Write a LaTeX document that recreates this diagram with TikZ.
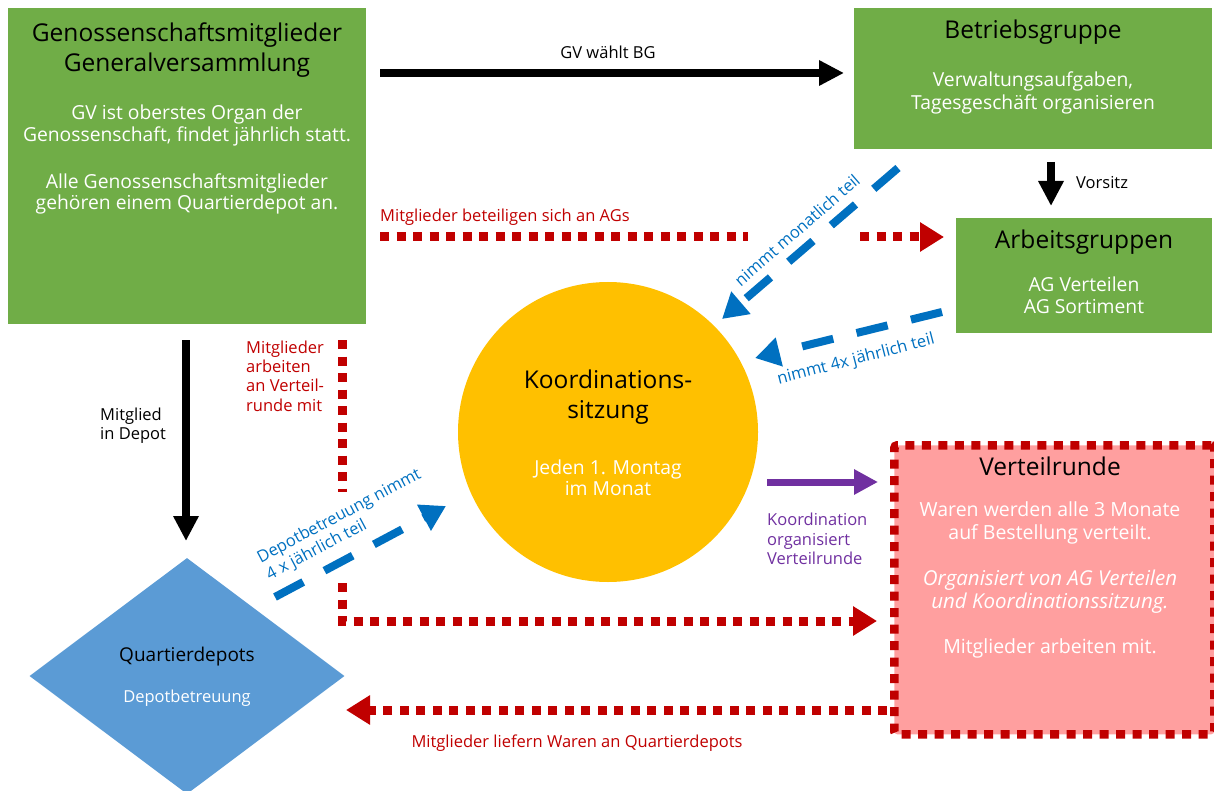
\documentclass[tikz,border=0pt]{standalone}
\usepackage{fontspec}
\setmainfont{Open Sans}
\usetikzlibrary{arrows.meta,shapes.geometric}
\definecolor{grn}{HTML}{70AD47}
\definecolor{ylw}{HTML}{FFC000}
\definecolor{dblue}{HTML}{5B9BD5}
\definecolor{rd}{HTML}{C00000}
\definecolor{bl}{HTML}{0070C0}
\definecolor{pnk}{HTML}{FF9F9F}
\definecolor{prp}{HTML}{7030A0}
\begin{document}
\begin{tikzpicture}[x=1pt,y=-1pt,
  gbox/.style={fill=grn, draw=none, inner sep=0pt, anchor=north west},
  ttl/.style={font=\fontsize{24.5}{30}\selectfont, text=black, align=center, inner sep=0pt},
  bdy/.style={font=\fontsize{19.3}{21.5}\selectfont, text=white, align=center, inner sep=0pt},
  lbl/.style={font=\fontsize{16.5}{19.3}\selectfont, inner sep=0pt},
  blackarrow/.style={line width=8pt, -{Triangle[length=25pt,width=24pt]}},
  reddots/.style={draw=rd, line width=9pt, dash pattern=on 9pt off 7.5pt},
  redtip/.style={-{Triangle[length=24pt,width=28pt]}},
  bluedash/.style={draw=bl, line width=8pt, dash pattern=on 32pt off 24pt, -{Triangle[length=25pt,width=28pt]}},
]
\useasboundingbox (0,0) rectangle (1214,791);

% shapes
\node[gbox, minimum width=358pt, minimum height=316pt] (gv) at (8,8) {};
\node[gbox, minimum width=358pt, minimum height=141pt] (bg) at (854,8) {};
\node[gbox, minimum width=256pt, minimum height=115pt] (ag) at (956,218) {};
\node[circle, fill=ylw, minimum size=300pt, inner sep=0pt] (ks) at (608,432) {};
\node[diamond, fill=dblue, minimum width=315pt, minimum height=236pt, inner sep=0pt] (qd) at (187,676) {};
\node[draw=rd, fill=pnk, line width=8.5pt, dash pattern=on 9pt off 7.5pt, rounded corners=3pt,
      minimum width=320pt, minimum height=289pt, inner sep=0pt, anchor=north west] (vr) at (890,441) {};

% texts in shapes
\node[ttl] (gvt) at (187,50) {Genossenschaftsmitglieder\\Generalversammlung};
\node[bdy] (gvb1) at (187,125.5) {GV ist oberstes Organ der\\Genossenschaft, findet jährlich statt.};
\node[bdy] (gvb2) at (187,194) {Alle Genossenschaftsmitglieder\\gehören einem Quartierdepot an.};
\node[ttl] (bgt) at (1033,32) {Betriebsgruppe};
\node[bdy, font=\fontsize{19.3}{22.5}\selectfont] (bgb) at (1033,93) {Verwaltungsaufgaben,\\Tagesgeschäft organisieren};
\node[ttl] (agt) at (1084,242) {Arbeitsgruppen};
\node[bdy] (agb) at (1084,295.5) {AG Verteilen\\AG Sortiment};
\node[ttl] (kst) at (608,397) {Koordinations-\\sitzung};
\node[bdy] (ksb) at (608,478) {Jeden 1. Montag\\im Monat};
\node[ttl, font=\fontsize{19}{22}\selectfont] (qdt) at (187,657) {Quartierdepots};
\node[bdy, font=\fontsize{16.5}{20}\selectfont] (qdb) at (187,698) {Depotbetreuung};
\node[ttl] (vrt) at (1050,466) {Verteilrunde};
\node[bdy, font=\fontsize{19.5}{23}\selectfont] (vrb1) at (1050,522.5) {Waren werden alle 3 Monate\\auf Bestellung verteilt.};
\node[bdy, font=\fontsize{20.5}{23}\selectfont\itshape] (vrb2) at (1050,591.5) {Organisiert von AG Verteilen\\und Koordinationssitzung.};
\node[bdy, font=\fontsize{19.5}{23}\selectfont] (vrb3) at (1050,648) {Mitglieder arbeiten mit.};

% connector end points
\coordinate (a1) at (380,73);   \coordinate (a2) at (844,73);
\coordinate (v1) at (1051,162); \coordinate (v2) at (1051,206);
\coordinate (d1) at (186,340);  \coordinate (d2) at (186,541);
\coordinate (r1) at (380,237);  \coordinate (r2) at (748,237);
\coordinate (r3) at (860,237);  \coordinate (r4) at (944,237);
\coordinate (s1) at (342,340);  \coordinate (s2) at (342,492);
\coordinate (s3) at (342,583);  \coordinate (s4) at (342,621); \coordinate (s5) at (877,621);
\coordinate (w1) at (887,710);  \coordinate (w2) at (346,710);
\coordinate (p1) at (767,482);  \coordinate (p2) at (878,482);
\coordinate (b1) at (898,168);  \coordinate (b2) at (722,319);
\coordinate (c1) at (942,312);  \coordinate (c2) at (755,358);
\coordinate (e1) at (275,597);  \coordinate (e2) at (446,506);

% black arrows
\draw[blackarrow] (a1) -- (a2);
\draw[blackarrow] (v1) -- (v2);
\draw[blackarrow] (d1) -- (d2);

% red dotted arrows
\draw[reddots] (r1) -- (r2);
\draw[reddots, redtip] (r3) -- (r4);
\draw[reddots] (s1) -- (s2);
\draw[reddots, redtip] (s3) -- (s4) -- (s5);
\draw[reddots, redtip] (w1) -- (w2);

% purple arrow
\draw[prp, line width=7pt, -{Triangle[length=24pt,width=24pt]}] (p1) -- (p2);

% blue dashed arrows
\draw[bluedash] (b1) -- (b2);
\draw[bluedash] (c1) -- (c2);
\draw[bluedash] (e1) -- (e2);

% connector labels
\node[lbl] (l1) at (608,52) {GV wählt BG};
\node[lbl, anchor=west] (l2) at (1076,183) {Vorsitz};
\node[lbl, anchor=west, align=left] (l3) at (100,425.5) {Mitglied\\in Depot};
\node[lbl, anchor=west, text=rd] (l4) at (380,217) {Mitglieder beteiligen sich an AGs};
\node[lbl, anchor=west, align=left, text=rd] (l5) at (246,376) {Mitglieder\\arbeiten\\an Verteil-\\runde mit};
\node[lbl, text=rd] (l6) at (577,743) {Mitglieder liefern Waren an Quartierdepots};
\node[lbl, anchor=west, align=left, text=prp] (l7) at (767,539) {Koordination\\organisiert\\Verteilrunde};
\node[lbl, text=bl, rotate=41] (l8) at (797,230) {nimmt monatlich teil};
\node[lbl, text=bl, rotate=14.5] (l9) at (856,360) {nimmt 4x jährlich teil};
\node[lbl, text=bl, rotate=28, align=left] (l10) at (344,525) {Depotbetreuung nimmt\\4 x jährlich teil};
\end{tikzpicture}
\end{document}
